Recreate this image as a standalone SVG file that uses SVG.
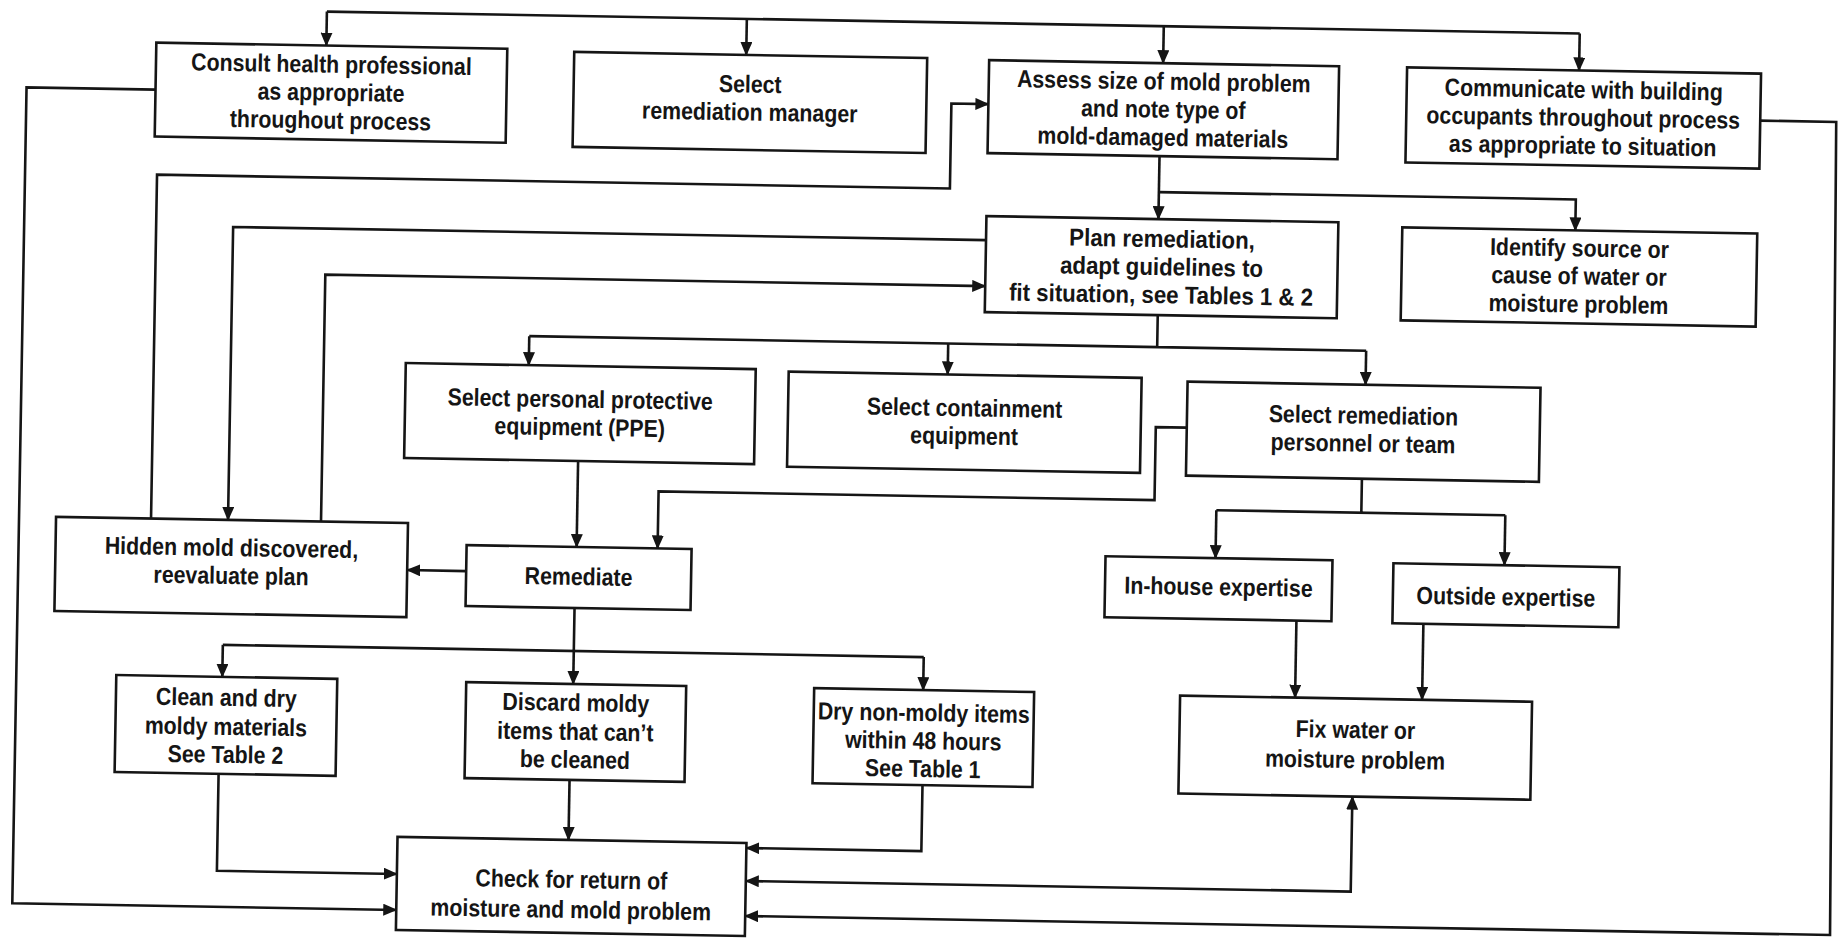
<svg xmlns="http://www.w3.org/2000/svg" width="1841" height="941" viewBox="0 0 1841 941">
<style>
.box{fill:#fff;stroke:#151515;stroke-width:2.6}
.t{font-family:"Liberation Sans",Arial,sans-serif;font-weight:bold;font-size:24.5px;fill:#151515;text-anchor:middle}
.c{fill:none;stroke:#151515;stroke-width:2.6}
.a{marker-end:url(#ah)}
</style>
<defs>
<marker id="ah" markerUnits="userSpaceOnUse" markerWidth="14" markerHeight="12" refX="13" refY="6" orient="auto-start-reverse">
<path d="M0,0 L14,6 L0,12 Z" fill="#151515"/>
</marker>
</defs>
<rect width="1841" height="941" fill="#fff"/>
<g transform="rotate(1 920 470)">
<g id="connectors">
<path class="c" d="M319,22 H1572"/>
<path class="c a" d="M319,22 V56"/>
<path class="c a" d="M739,22 V58"/>
<path class="c a" d="M1156,22 V59"/>
<path class="c a" d="M1572,22 V59"/>
<path class="c a" d="M149,103 H20 V919 H404"/>
<path class="c a" d="M1754,106 H1830 L1838,919 H753"/>
<path class="c a" d="M152,532 V188 H945 V103 H982"/>
<path class="c a" d="M982,239 H229 V532"/>
<path class="c a" d="M322,532 V285 H982"/>
<path class="c a" d="M1154,152 V215"/>
<path class="c a" d="M1154,188 H1571 V219"/>
<path class="c" d="M1155,311 V343 M527,343 H1364"/>
<path class="c a" d="M527,343 V372"/>
<path class="c a" d="M946,343 V374"/>
<path class="c a" d="M1364,343 V377"/>
<path class="c a" d="M578,467 V553"/>
<path class="c a" d="M1186,423 H1155 V496 H659 V553"/>
<path class="c a" d="M468,579 H409"/>
<path class="c" d="M577,614 V657 M226,657 H927"/>
<path class="c a" d="M577,657 V690"/>
<path class="c a" d="M226,657 V689"/>
<path class="c a" d="M927,657 V690"/>
<path class="c a" d="M224,786 V883 H404"/>
<path class="c a" d="M575,786 V846"/>
<path class="c a" d="M928,785 V851 H753"/>
<path class="c a" d="M753,884 H1358 V789" marker-start="url(#ah)"/>
<path class="c" d="M1362,471 V505 M1217,505 H1506"/>
<path class="c a" d="M1217,505 V553"/>
<path class="c a" d="M1506,505 V555"/>
<path class="c a" d="M1299,614 V691"/>
<path class="c a" d="M1426,615 V691"/>
</g>
<g id="consult"><rect class="box" x="149" y="56" width="351" height="94"/>
<g transform="matrix(0.87 0 0 1 324.5 0)"><text class="t" x="0" y="83">Consult health professional</text><text class="t" x="0" y="111">as appropriate</text><text class="t" x="0" y="139">throughout process</text></g></g>
<g id="manager"><rect class="box" x="567" y="58" width="353" height="95"/>
<g transform="matrix(0.87 0 0 1 743.5 0)"><text class="t" x="0" y="95.5">Select</text><text class="t" x="0" y="123.5">remediation manager</text></g></g>
<g id="assess"><rect class="box" x="982" y="59" width="350" height="93"/>
<g transform="matrix(0.87 0 0 1 1157 0)"><text class="t" x="0" y="85.5">Assess size of mold problem</text><text class="t" x="0" y="113.5">and note type of</text><text class="t" x="0" y="141.5">mold-damaged materials</text></g></g>
<g id="communicate"><rect class="box" x="1400" y="59" width="354" height="95"/>
<g transform="matrix(0.87 0 0 1 1577 0)"><text class="t" x="0" y="86.5">Communicate with building</text><text class="t" x="0" y="114.5">occupants throughout process</text><text class="t" x="0" y="142.5">as appropriate to situation</text></g></g>
<g id="plan"><rect class="box" x="982" y="215" width="352" height="96"/>
<g transform="matrix(0.91 0 0 1 1158 0)"><text class="t" x="0" y="243">Plan remediation,</text><text class="t" x="0" y="271">adapt guidelines to</text><text class="t" x="0" y="299">fit situation, see Tables 1 &amp; 2</text></g></g>
<g id="identify"><rect class="box" x="1398" y="219" width="355" height="93"/>
<g transform="matrix(0.87 0 0 1 1575.5 0)"><text class="t" x="0" y="245">Identify source or</text><text class="t" x="0" y="273">cause of water or</text><text class="t" x="0" y="301">moisture problem</text></g></g>
<g id="ppe"><rect class="box" x="404" y="372" width="350" height="95"/>
<g transform="matrix(0.87 0 0 1 579 0)"><text class="t" x="0" y="413.5">Select personal protective</text><text class="t" x="0" y="441.5">equipment (PPE)</text></g></g>
<g id="containment"><rect class="box" x="787" y="374" width="353" height="95"/>
<g transform="matrix(0.87 0 0 1 963.5 0)"><text class="t" x="0" y="415.5">Select containment</text><text class="t" x="0" y="443.5">equipment</text></g></g>
<g id="personnel"><rect class="box" x="1186" y="377" width="353" height="94"/>
<g transform="matrix(0.87 0 0 1 1362.5 0)"><text class="t" x="0" y="416">Select remediation</text><text class="t" x="0" y="444">personnel or team</text></g></g>
<g id="hidden"><rect class="box" x="57" y="532" width="352" height="94"/>
<g transform="matrix(0.87 0 0 1 233 0)"><text class="t" x="0" y="568">Hidden mold discovered,</text><text class="t" x="0" y="596">reevaluate plan</text></g></g>
<g id="remediate"><rect class="box" x="468" y="553" width="225" height="61"/>
<g transform="matrix(0.87 0 0 1 580.5 0)"><text class="t" x="0" y="591">Remediate</text></g></g>
<g id="inhouse"><rect class="box" x="1107" y="553" width="227" height="61"/>
<g transform="matrix(0.87 0 0 1 1220.5 0)"><text class="t" x="0" y="590">In-house expertise</text></g></g>
<g id="outside"><rect class="box" x="1395" y="555" width="226" height="60"/>
<g transform="matrix(0.87 0 0 1 1508 0)"><text class="t" x="0" y="595">Outside expertise</text></g></g>
<g id="clean"><rect class="box" x="120" y="689" width="221" height="97"/>
<g transform="matrix(0.87 0 0 1 230.5 0)"><text class="t" x="0" y="718">Clean and dry</text><text class="t" x="0" y="747">moldy materials</text><text class="t" x="0" y="775">See Table 2</text></g></g>
<g id="discard"><rect class="box" x="470" y="690" width="220" height="96"/>
<g transform="matrix(0.87 0 0 1 580 0)"><text class="t" x="0" y="717">Discard moldy</text><text class="t" x="0" y="746">items that can’t</text><text class="t" x="0" y="774">be cleaned</text></g></g>
<g id="dry"><rect class="box" x="818" y="690" width="220" height="95"/>
<g transform="matrix(0.87 0 0 1 928 0)"><text class="t" x="0" y="721">Dry non-moldy items</text><text class="t" x="0" y="749">within 48 hours</text><text class="t" x="0" y="777">See Table 1</text></g></g>
<g id="fix"><rect class="box" x="1184" y="691" width="352" height="98"/>
<g transform="matrix(0.87 0 0 1 1360 0)"><text class="t" x="0" y="730.5">Fix water or</text><text class="t" x="0" y="760.5">moisture problem</text></g></g>
<g id="check"><rect class="box" x="404" y="846" width="349" height="93"/>
<g transform="matrix(0.87 0 0 1 578.5 0)"><text class="t" x="0" y="894">Check for return of</text><text class="t" x="0" y="924">moisture and mold problem</text></g></g>
</g>
</svg>
